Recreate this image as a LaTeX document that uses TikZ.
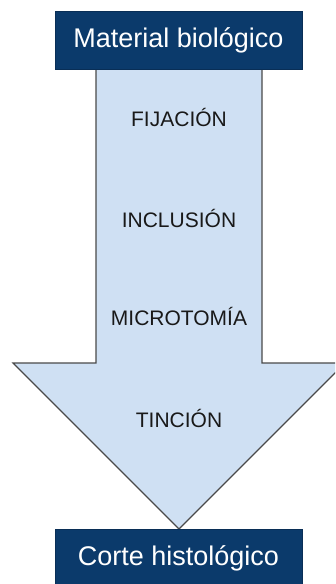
\documentclass[tikz,border=0pt]{standalone}
\usepackage{fontspec}
\setmainfont{Liberation Sans}
\usepackage{xcolor}
\usetikzlibrary{positioning}

\definecolor{navy}{HTML}{0B3A6B}
\definecolor{celeste}{HTML}{CFE0F3}
\definecolor{borde}{HTML}{4A4A4A}

\begin{document}
\begin{tikzpicture}[
    x=1pt, y=-1pt,
    titulo/.style={rectangle, draw=navy!80!black, fill=navy, text=white, minimum width=247pt, minimum height=58pt, inner sep=0pt, font=\fontsize{27}{32}\selectfont},
    paso/.style={text=black!90, inner sep=0pt, font=\fontsize{21}{25}\selectfont},
    flecha/.style={draw=borde, fill=celeste, line width=1.1pt, line join=miter},
]
    \useasboundingbox (0,0) rectangle (335,584);
    \clip (0,0) rectangle (335,584);

    % arrow body
    \coordinate (sl) at (96,69);
    \coordinate (sr) at (262,69);
    \coordinate (hl) at (13,363);
    \coordinate (hr) at (345,363);
    \coordinate (tip) at (179,529);
    \draw[flecha] (sl) -- (sl |- hl) -- (hl) -- (tip) -- (hr) -- (sr |- hr) -- (sr);

    \node[paso] (fij) at (179,117) {FIJACIÓN};
    \node[paso] (inc) at (179,218) {INCLUSIÓN};
    \node[paso] (mic) at (179,316) {MICROTOMÍA};
    \node[paso] (tin) at (179,418) {TINCIÓN};

    \node[titulo] (matbio) at (178.5,40) {Material biológico};
    \node[titulo, anchor=north] (corte) at (178.5,529) {Corte histológico};
\end{tikzpicture}
\end{document}
